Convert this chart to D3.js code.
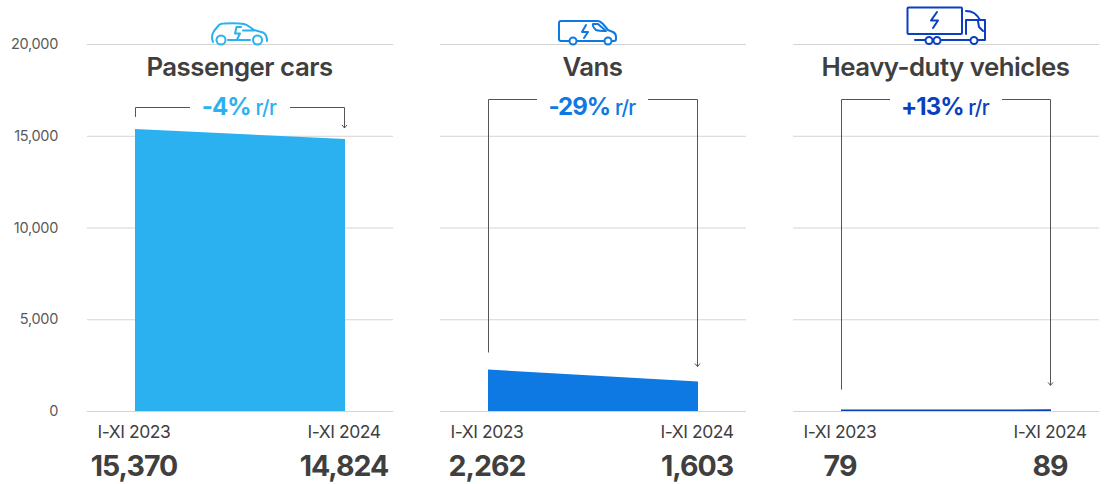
<!DOCTYPE html>
<html><head><meta charset="utf-8">
<script src="https://cdn.jsdelivr.net/npm/d3@7"></script>
<style>html,body{margin:0;padding:0;background:#fff}svg{display:block}text{font-family:Inter,"Noto Sans",sans-serif}</style>
</head><body><svg id="c" width="1104" height="484"></svg>
<script>
const titles = ["Passenger cars","Vans","Heavy-duty vehicles"];
const periods = ["I-XI 2023","I-XI 2024"];
const series2023 = [15370,2262,79];
const series2024 = [14824,1603,89];
const changes = ["-4%","-29%","+13%"];
const changeUnit = " r/r";
const colors = ["#2bb1ef","#0e78e3","#0a3fc0"];
const yTicks = [0,5000,10000,15000,20000];
const panelLefts = [87,440,793];
const bracketLeftOffset = [12,17,20];
const bracketRightOffset = [11,15,24];
const bracketTop = [107,99,99];
const gapLeft = [55,49,49];
const gapRight = [55,50,49];

const svg = d3.select("#c");
const y = d3.scaleLinear().domain([0,20000]).range([411,44]);
const fmt = d3.format(",");
const ink = "#3f3f3f";

svg.append("g").selectAll("text").data(yTicks).join("text")
  .attr("x",58).attr("y",d=>y(d)+5).attr("text-anchor","end")
  .attr("font-size",14.5).attr("letter-spacing",-0.3).attr("fill","#5a5a5a").text(fmt);

const icons = [
 g=>{g.attr("transform","translate(211,22)");
  g.append("path").attr("d","M2 20C0 15 1 12 3 9L8 3C9 2 10 1.500 13 1.500C20 1 28 1 33 2C37 3 40 6 43 8L52 10.500C55 12 56 15 56 19M17 18H39M32 8.500H43");
  g.append("path").attr("d","M30 5H25.500L24 11.500H29L26 17.500");
  g.append("circle").attr("cx",10).attr("cy",18).attr("r",4.500);
  g.append("circle").attr("cx",46.500).attr("cy",18).attr("r",4.500);},
 g=>{g.attr("transform","translate(558,20)");
  g.append("path").attr("d","M11 21H3C1.500 21 1 20 1 19V3C1 1.500 2 1 3 1H40C42 1 43 2 45 4L50 10L55 12C57 13 58 15 58 17V19C58 20 57 21 56 21H54M19 21H46");
  g.append("path").attr("d","M35 4H40L48 11C44 11 41 11 38 10C36 8 34 6 35 4Z");
  g.append("path").attr("d","M28 5L24 12H30L26 18");
  g.append("circle").attr("cx",15).attr("cy",21).attr("r",3.500);
  g.append("circle").attr("cx",50).attr("cy",21).attr("r",3.500);},
 g=>{g.attr("transform","translate(907,7)");
  g.append("rect").attr("x",.5).attr("y",.5).attr("width",54.500).attr("height",26.500).attr("rx",1);
  g.append("path").attr("d","M30 5L24 13.500H31L26 21");
  g.append("path").attr("d","M59 4C65 4 70 7 73 13M59 13V27M59 13H78V33M8 33H18M34 33H63M71 33H78");
  g.append("path").attr("d","M71 14L72 20L76 24");
  [22,30,67].forEach(cx=>g.append("circle").attr("cx",cx).attr("cy",33.500).attr("r",3.500));}
];

panelLefts.forEach((left,i)=>{
  const x = d3.scalePoint().domain(periods).range([left+48,left+258]);
  const vals = [series2023[i],series2024[i]];
  const g = svg.append("g");
  g.selectAll("line.grid").data(yTicks).join("line").attr("class","grid")
    .attr("x1",left).attr("x2",left+306).attr("y1",d=>y(d)+.5).attr("y2",d=>y(d)+.5)
    .attr("stroke","#d4d4d4").attr("stroke-width",1);
  const area = d3.area().x((d,k)=>x(periods[k])).y0(y(0)).y1(d=>y(d));
  g.append("path").datum(vals).attr("d",area).attr("fill",colors[i]);

  const icon = g.append("g").attr("fill","none").attr("stroke",colors[i]).attr("stroke-width",2).attr("stroke-linecap","round").attr("stroke-linejoin","round");
  icons[i](icon);
  icon.selectAll("circle").attr("fill","#fff");

  const cx = left+153;
  g.append("text").attr("x",cx-.5).attr("y",76).attr("text-anchor","middle")
    .attr("font-size",25.800).attr("font-weight",600).attr("letter-spacing",-0.5).attr("fill",ink).text(titles[i]);

  const x0=x(periods[0]), x1=x(periods[1]), t=bracketTop[i];
  const yl=y(vals[0])-bracketLeftOffset[i], yr=y(vals[1])-bracketRightOffset[i];
  const br=g.append("g").attr("fill","none").attr("stroke","#555").attr("stroke-width",1);
  br.append("path").attr("d",`M${x0+.5} ${yl}V${t+.5}H${x0+gapLeft[i]}`);
  br.append("path").attr("d",`M${x1-gapRight[i]} ${t+.5}H${x1-.5}V${yr}`);
  br.append("path").attr("d",`M${x1-3} ${yr-3}L${x1-.5} ${yr}L${x1+2} ${yr-3}`);

  const lab=g.append("text").attr("x",cx-1).attr("y",115).attr("text-anchor","middle").attr("fill",colors[i]);
  lab.append("tspan").attr("font-size",24).attr("font-weight",700).attr("letter-spacing",-1).text(changes[i]);
  lab.append("tspan").attr("font-size",20.500).attr("font-weight",500).attr("letter-spacing",-0.7).text(changeUnit);

  periods.forEach((p,k)=>{
    g.append("text").attr("x",x(p)-1).attr("y",438).attr("text-anchor","middle")
      .attr("font-size",17.500).attr("letter-spacing",-0.45).attr("fill",ink).text(p);
    g.append("text").attr("x",x(p)-1).attr("y",476).attr("text-anchor","middle")
      .attr("font-size",28.500).attr("font-weight",700).attr("letter-spacing",-1).attr("fill",ink).text(fmt(vals[k]));
  });
});
</script></body></html>
